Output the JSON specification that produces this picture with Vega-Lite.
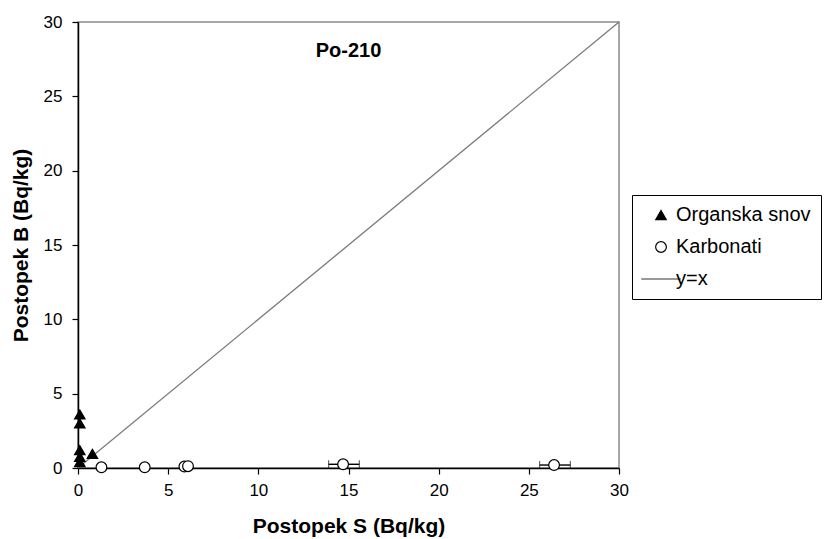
{
  "$schema": "https://vega.github.io/schema/vega-lite/v6.json",
  "width": 541,
  "height": 446,
  "autosize": "none",
  "padding": {"left": 78, "top": 22, "right": 206, "bottom": 71},
  "background": "white",
  "config": {
    "font": "Liberation Sans",
    "view": {"stroke": "#8a8a8a", "strokeWidth": 1.5},
    "axis": {
      "grid": false,
      "labelFlush": false,
      "domainColor": "black",
      "domainWidth": 1.5,
      "tickColor": "black",
      "tickWidth": 1.2,
      "tickSize": 6,
      "labelFontSize": 17,
      "labelColor": "black",
      "labelFont": "Liberation Sans",
      "titleFont": "Liberation Sans",
      "titleFontSize": 21,
      "titleFontWeight": "bold",
      "titleColor": "black"
    },
    "legend": {
      "orient": "none",
      "legendX": 554,
      "legendY": 173,
      "strokeColor": "black",
      "fillColor": "white",
      "padding": 10,
      "symbolOffset": 9,
      "symbolSize": 70,
      "symbolStrokeColor": "black",
      "symbolStrokeWidth": 1.2,
      "labelFontSize": 20,
      "labelFont": "Liberation Sans",
      "labelColor": "black",
      "labelOffset": 5,
      "rowPadding": 12,
      "labelLimit": 300
    }
  },
  "title": {
    "text": "Po-210",
    "anchor": "middle",
    "orient": "top",
    "offset": -48,
    "fontSize": 20,
    "fontWeight": "bold",
    "font": "Liberation Sans",
    "color": "black"
  },
  "datasets": {
    "pts": [
      {"series": "Organska snov", "x": 0.1, "y": 3.6},
      {"series": "Organska snov", "x": 0.1, "y": 3.0},
      {"series": "Organska snov", "x": 0.1, "y": 1.2},
      {"series": "Organska snov", "x": 0.1, "y": 0.75},
      {"series": "Organska snov", "x": 0.1, "y": 0.4},
      {"series": "Organska snov", "x": 0.8, "y": 0.95},
      {"series": "Karbonati", "x": 1.3, "y": 0.05},
      {"series": "Karbonati", "x": 3.7, "y": 0.05},
      {"series": "Karbonati", "x": 5.9, "y": 0.1},
      {"series": "Karbonati", "x": 6.1, "y": 0.12},
      {"series": "Karbonati", "x": 14.7, "y": 0.25, "xlo": 13.9, "xhi": 15.6},
      {"series": "Karbonati", "x": 26.4, "y": 0.2, "xlo": 25.6, "xhi": 27.3}
    ],
    "line": [
      {"x": 0, "y": 0},
      {"x": 30, "y": 30}
    ]
  },
  "layer": [
    {
      "data": {"name": "line"},
      "mark": {"type": "line", "color": "#7a7a7a", "strokeWidth": 1.3},
      "encoding": {
        "x": {
          "field": "x",
          "type": "quantitative",
          "title": "Postopek S (Bq/kg)",
          "scale": {"domain": [0, 30], "nice": false},
          "axis": {"values": [0, 5, 10, 15, 20, 25, 30], "labelPadding": 8, "titlePadding": 17}
        },
        "y": {
          "field": "y",
          "type": "quantitative",
          "title": "Postopek B (Bq/kg)",
          "scale": {"domain": [0, 30], "nice": false},
          "axis": {"values": [0, 5, 10, 15, 20, 25, 30], "labelPadding": 10, "titlePadding": 12}
        }
      }
    },
    {
      "data": {"name": "pts"},
      "transform": [{"filter": "isValid(datum.xlo)"}],
      "mark": {"type": "errorbar", "color": "black", "ticks": {"size": 8, "color": "black", "strokeWidth": 1.4}, "rule": {"color": "black", "strokeWidth": 1.4}},
      "encoding": {
        "x": {"field": "xlo", "type": "quantitative", "title": "Postopek S (Bq/kg)"},
        "x2": {"field": "xhi"},
        "y": {"field": "y", "type": "quantitative", "title": "Postopek B (Bq/kg)"}
      }
    },
    {
      "data": {"name": "pts"},
      "mark": {"type": "point", "strokeWidth": 1.2, "opacity": 1},
      "encoding": {
        "x": {"field": "x", "type": "quantitative", "title": "Postopek S (Bq/kg)"},
        "y": {"field": "y", "type": "quantitative", "title": "Postopek B (Bq/kg)"},
        "shape": {
          "field": "series",
          "type": "nominal",
          "title": null,
          "scale": {"domain": ["Organska snov", "Karbonati", "y=x"], "range": ["triangle-up", "circle", "M-3.6,0L3.6,0"]}
        },
        "fill": {
          "field": "series",
          "type": "nominal",
          "title": null,
          "scale": {"domain": ["Organska snov", "Karbonati", "y=x"], "range": ["black", "white", "transparent"]}
        },
        "stroke": {
          "field": "series",
          "type": "nominal",
          "title": null,
          "scale": {"domain": ["Organska snov", "Karbonati", "y=x"], "range": ["black", "black", "#333333"]}
        },
        "size": {
          "field": "series",
          "type": "nominal",
          "title": null,
          "scale": {"domain": ["Organska snov", "Karbonati", "y=x"], "range": [110, 120, 70]}
        }
      }
    }
  ]
}
